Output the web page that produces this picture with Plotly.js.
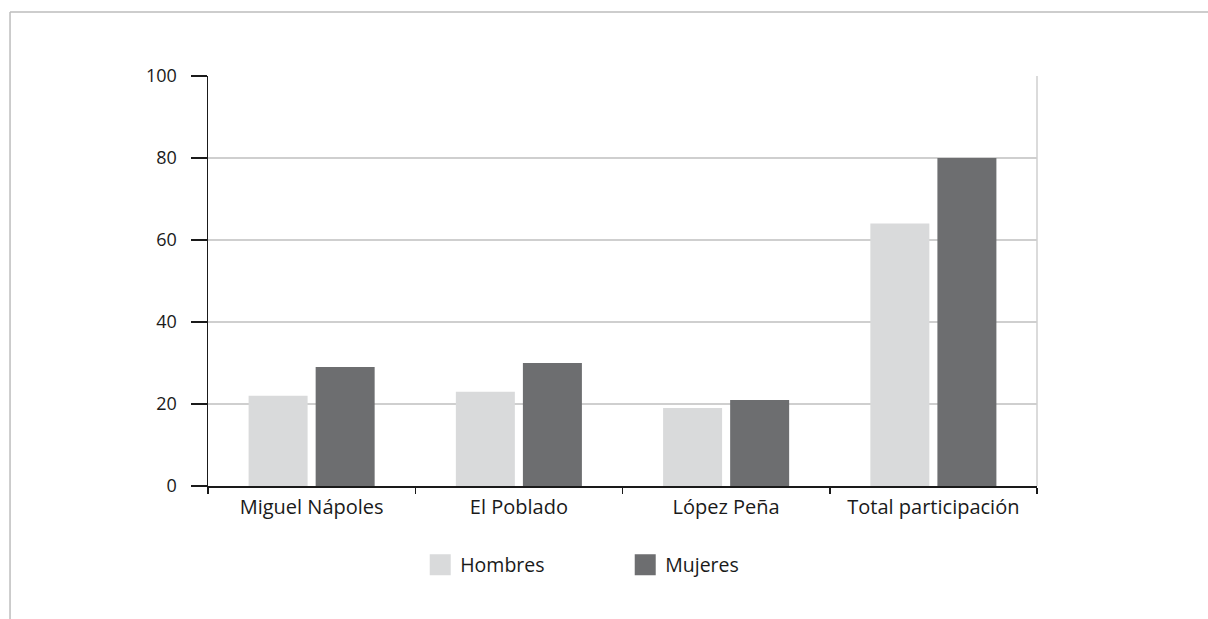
<!DOCTYPE html>
<html>
<head>
<meta charset="utf-8">
<script src="https://cdn.plot.ly/plotly-3.0.1.min.js"></script>
<style>
html,body{margin:0;padding:0;background:#fff;}
#chart{width:1208px;height:619px;}
</style>
</head>
<body>
<div id="chart"></div>
<script>
const categories = ["Miguel Nápoles", "El Poblado", "López Peña", "Total participación"];
const hombres = [22, 23, 19, 64];
const mujeres = [29, 30, 21, 80];
const seriesNames = ["Hombres", "Mujeres"];
const yTicks = [0, 20, 40, 60, 80, 100];

const colH = "#d9dadb";
const colM = "#6d6e70";
const FONT = "Open Sans, sans-serif";

const traces = [
  {type: "bar", name: seriesNames[0], x: categories, y: hombres, marker: {color: colH}, showlegend: false},
  {type: "bar", name: seriesNames[1], x: categories, y: mujeres, marker: {color: colM}, showlegend: false},
  {type: "scatter", mode: "markers", name: seriesNames[0], x: [null], y: [null],
   marker: {symbol: "square", size: 16, color: colH, line: {color: colH, width: 5}}},
  {type: "scatter", mode: "markers", name: seriesNames[1], x: [null], y: [null],
   marker: {symbol: "square", size: 16, color: colM, line: {color: colM, width: 5}}}
];

const layout = {
  width: 1208, height: 619,
  margin: {l: 208, r: 171, t: 76, b: 133},
  paper_bgcolor: "#fff", plot_bgcolor: "#fff",
  font: {family: FONT, size: 17, color: "#1a1a1a"},
  barmode: "group",
  bargap: 0.353,
  bargroupgap: 0.12,
  showlegend: true,
  legend: {orientation: "h", x: 0.256, xanchor: "left", y: -0.193, yanchor: "middle",
           entrywidth: 160, entrywidthmode: "pixels", font: {family: FONT, size: 19.5, color: "#1a1a1a"}},
  xaxis: {
    type: "category",
    showline: true, linecolor: "#1a1a1a", linewidth: 1.5,
    ticks: "outside", tickson: "boundaries", ticklen: 6, tickcolor: "#1a1a1a", tickwidth: 1.5,
    tickfont: {family: FONT, size: 20, color: "#1a1a1a"}, ticklabelstandoff: 2,
    showgrid: false, zeroline: false, fixedrange: true
  },
  yaxis: {
    range: [0, 100], tickvals: yTicks,
    showline: true, linecolor: "#1a1a1a", linewidth: 1.5,
    ticks: "outside", ticklen: 16, tickcolor: "#1a1a1a", tickwidth: 1.5,
    tickfont: {family: FONT, size: 18, color: "#1a1a1a"}, ticklabelstandoff: 10,
    showgrid: true, gridcolor: "#cfcfcf", gridwidth: 1.5,
    zeroline: false, fixedrange: true
  },
  shapes: [
    {type: "line", xref: "paper", yref: "paper", x0: 1, x1: 1, y0: 0, y1: 1, line: {color: "#cfcfcf", width: 1.5}},
    {type: "line", xref: "paper", yref: "paper", x0: -0.2388, x1: 1.21, y0: 1.156, y1: 1.156, line: {color: "#bdbdbd", width: 1.5}},
    {type: "line", xref: "paper", yref: "paper", x0: -0.2388, x1: -0.2388, y0: 1.156, y1: -0.33, line: {color: "#bdbdbd", width: 1.5}}
  ]
};

Plotly.newPlot("chart", traces, layout, {displayModeBar: false, staticPlot: true});
</script>
</body>
</html>
